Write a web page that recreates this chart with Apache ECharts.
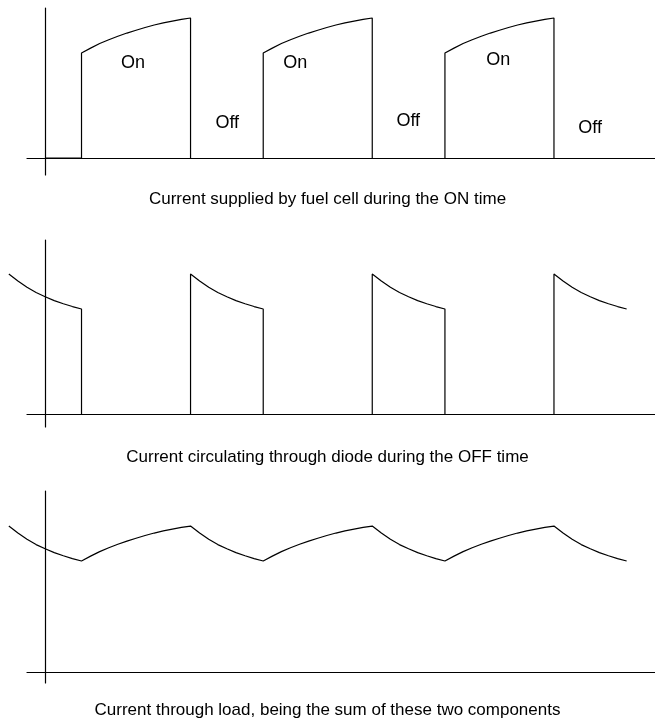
<!DOCTYPE html>
<html>
<head>
<meta charset="utf-8">
<script src="https://cdn.jsdelivr.net/npm/echarts@6/dist/echarts.min.js"></script>
<style>
html,body{margin:0;padding:0;background:#fff;}
#chart{width:655px;height:720px;}
</style>
</head>
<body>
<div id="chart"></div>
<script>
// ---- Data (time in arbitrary units, current in arbitrary units) ----
const fuelTime = [0, 2, 2, 2.5, 3, 3.5, 4, 4.5, 5, 5.5, 6, 6.5, 7, 7.5, 8, 8, null,
  12, 12, 12.5, 13, 13.5, 14, 14.5, 15, 15.5, 16, 16.5, 17, 17.5, 18, 18, null,
  22, 22, 22.5, 23, 23.5, 24, 24.5, 25, 25.5, 26, 26.5, 27, 27.5, 28, 28];
const fuelCurrent = [0, 0, 3.00, 3.14, 3.27, 3.38, 3.48, 3.57, 3.65, 3.73, 3.80, 3.86, 3.91, 3.96, 4.00, 0, null,
  0, 3.00, 3.14, 3.27, 3.38, 3.48, 3.57, 3.65, 3.73, 3.80, 3.86, 3.91, 3.96, 4.00, 0, null,
  0, 3.00, 3.14, 3.27, 3.38, 3.48, 3.57, 3.65, 3.73, 3.80, 3.86, 3.91, 3.96, 4.00, 0];

const diodeTime = [-2, -1.5, -1, -0.5, 0, 0.5, 1, 1.5, 2, 2, null,
  8, 8, 8.5, 9, 9.5, 10, 10.5, 11, 11.5, 12, 12, null,
  18, 18, 18.5, 19, 19.5, 20, 20.5, 21, 21.5, 22, 22, null,
  28, 28, 28.5, 29, 29.5, 30, 30.5, 31, 31.5, 32];
const diodeCurrent = [4.00, 3.80, 3.62, 3.47, 3.35, 3.24, 3.15, 3.07, 3.00, 0, null,
  0, 4.00, 3.80, 3.62, 3.47, 3.35, 3.24, 3.15, 3.07, 3.00, 0, null,
  0, 4.00, 3.80, 3.62, 3.47, 3.35, 3.24, 3.15, 3.07, 3.00, 0, null,
  0, 4.00, 3.80, 3.62, 3.47, 3.35, 3.24, 3.15, 3.07, 3.00];

const loadTime = [-2, -1.5, -1, -0.5, 0, 0.5, 1, 1.5, 2, 2.5, 3, 3.5, 4, 4.5, 5, 5.5, 6, 6.5, 7, 7.5, 8,
  8.5, 9, 9.5, 10, 10.5, 11, 11.5, 12, 12.5, 13, 13.5, 14, 14.5, 15, 15.5, 16, 16.5, 17, 17.5, 18,
  18.5, 19, 19.5, 20, 20.5, 21, 21.5, 22, 22.5, 23, 23.5, 24, 24.5, 25, 25.5, 26, 26.5, 27, 27.5, 28,
  28.5, 29, 29.5, 30, 30.5, 31, 31.5, 32];
const loadCurrent = [4.17, 3.97, 3.79, 3.64, 3.52, 3.41, 3.32, 3.24, 3.17,
  3.31, 3.44, 3.55, 3.65, 3.74, 3.82, 3.90, 3.97, 4.03, 4.08, 4.13, 4.17,
  3.97, 3.79, 3.64, 3.52, 3.41, 3.32, 3.24, 3.17,
  3.31, 3.44, 3.55, 3.65, 3.74, 3.82, 3.90, 3.97, 4.03, 4.08, 4.13, 4.17,
  3.97, 3.79, 3.64, 3.52, 3.41, 3.32, 3.24, 3.17,
  3.31, 3.44, 3.55, 3.65, 3.74, 3.82, 3.90, 3.97, 4.03, 4.08, 4.13, 4.17,
  3.97, 3.79, 3.64, 3.52, 3.41, 3.32, 3.24, 3.17];

const stateLabels = ['On', 'Off', 'On', 'Off', 'On', 'Off'];
const stateLabelTime = [4.84, 10.02, 13.76, 19.98, 24.93, 29.99];
const stateLabelLevel = [2.71, 1.0, 2.71, 1.06, 2.8, 0.86];

const captions = [
  'Current supplied by fuel cell during the ON time',
  'Current circulating through diode during the OFF time',
  'Current through load, being the sum of these two components'
];

// ---- Chart ----
const FONT = '"Liberation Sans", Arial, Helvetica, sans-serif';
const LINE = '#000';
const toPairs = (t, v) => t.map((x, i) => (x === null ? [null, null] : [x, v[i]]));

// panel layout: axes grid (x axis starts at px 27) and an overlay plotting grid
// with the same scale that extends further left so curves can start before it.
const panelTop = [8, 240, 491];
const panelHeight = [167, 187, 192];
const yRanges = [[-0.486, 4.286], [-0.371, 4.971], [-0.314, 5.171]];
const xAxisRange = [-1, 33.56];
const xPlotRange = [-2, 33.56];
const axisLeft = 27;
const pxPerUnit = (655 - axisLeft) / (xAxisRange[1] - xAxisRange[0]);
const plotLeft = axisLeft - pxPerUnit * (xAxisRange[0] - xPlotRange[0]);

const grids = [];
const xAxes = [];
const yAxes = [];
const hidden = { show: false };
for (let i = 0; i < 3; i++) {
  // axes grid (index 2*i)
  grids.push({ left: axisLeft, right: 0, top: panelTop[i], height: panelHeight[i] });
  xAxes.push({
    type: 'value', gridIndex: 2 * i, min: xAxisRange[0], max: xAxisRange[1],
    axisLine: { show: true, onZero: true, lineStyle: { color: LINE, width: 1.2 } },
    axisTick: hidden, axisLabel: hidden, splitLine: hidden
  });
  yAxes.push({
    type: 'value', gridIndex: 2 * i, min: yRanges[i][0], max: yRanges[i][1],
    axisLine: { show: true, onZero: true, lineStyle: { color: LINE, width: 1.2 } },
    axisTick: hidden, axisLabel: hidden, splitLine: hidden
  });
  // plotting grid (index 2*i+1)
  grids.push({ left: plotLeft, right: 0, top: panelTop[i], height: panelHeight[i] });
  xAxes.push({
    type: 'value', gridIndex: 2 * i + 1, min: xPlotRange[0], max: xPlotRange[1],
    axisLine: hidden, axisTick: hidden, axisLabel: hidden, splitLine: hidden
  });
  yAxes.push({
    type: 'value', gridIndex: 2 * i + 1, min: yRanges[i][0], max: yRanges[i][1],
    axisLine: hidden, axisTick: hidden, axisLabel: hidden, splitLine: hidden
  });
}

const lineSeries = (t, v, i) => ({
  type: 'line', xAxisIndex: 2 * i + 1, yAxisIndex: 2 * i + 1,
  data: toPairs(t, v), showSymbol: false, symbol: 'none',
  connectNulls: false, animation: false, silent: true,
  lineStyle: { color: LINE, width: 1.2 }
});

const chart = echarts.init(document.getElementById('chart'), null, { renderer: 'canvas' });
chart.setOption({
  backgroundColor: '#fff',
  animation: false,
  grid: grids,
  xAxis: xAxes,
  yAxis: yAxes,
  series: [
    lineSeries(fuelTime, fuelCurrent, 0),
    lineSeries(diodeTime, diodeCurrent, 1),
    lineSeries(loadTime, loadCurrent, 2),
    {
      type: 'scatter', xAxisIndex: 0, yAxisIndex: 0, symbolSize: 1, silent: true,
      itemStyle: { color: '#fff', opacity: 1 },
      data: stateLabels.map((s, i) => ({ name: s, value: [stateLabelTime[i], stateLabelLevel[i]] })),
      label: {
        show: true, position: 'inside', formatter: '{b}', color: '#000', opacity: 1,
        textBorderWidth: 0, textBorderColor: 'transparent',
        fontSize: 18, fontFamily: FONT
      }
    }
  ],
  graphic: captions.map((c, i) => ({
    type: 'text', left: 'center', top: [191, 449, 702][i],
    style: { text: c, fill: '#000', font: '17px ' + FONT }
  }))
});
</script>
</body>
</html>
